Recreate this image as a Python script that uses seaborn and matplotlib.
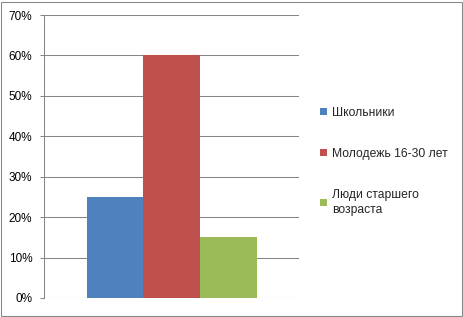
import matplotlib
matplotlib.use("Agg")
import matplotlib.pyplot as plt
import matplotlib.patches as mpatches
from matplotlib.ticker import FuncFormatter
import seaborn as sns
import pandas as pd

categories = ["Школьники", "Молодежь 16-30 лет", "Люди старшего\nвозраста"]
values = [25, 60, 15]
colors = ["#4F81BD", "#C0504D", "#9BBB59"]
yticks = [0, 10, 20, 30, 40, 50, 60, 70]

sns.set_style("white")
plt.rcParams["font.family"] = ["Liberation Sans", "DejaVu Sans"]

W, H = 463, 317
fig = plt.figure(figsize=(W / 100, H / 100), dpi=100)
ax = fig.add_axes([44 / W, (H - 298) / H, (299 - 44) / W, (298 - 15) / H])

df = pd.DataFrame({"grp": ["g"] * 3, "cat": categories, "val": values})
sns.barplot(data=df, x="grp", y="val", hue="cat", palette=colors, ax=ax,
            width=0.8, saturation=1, legend=False, edgecolor="none")

ax.set_xlim(-0.6, 0.6)
ax.set_ylim(0, 70)
ax.set_yticks(yticks)
ax.yaxis.set_major_formatter(FuncFormatter(lambda v, p: f"{int(v)}%"))
ax.set_xticks([])
ax.set_xlabel("")
ax.set_ylabel("")
grid_c = "#868686"
ax.grid(axis="y", color=grid_c, linewidth=0.75)
ax.set_axisbelow(True)
for s in ["top", "right", "bottom"]:
    ax.spines[s].set_visible(False)
ax.spines["left"].set_color(grid_c)
ax.spines["left"].set_linewidth(0.75)
ax.tick_params(axis="y", left=True, length=3, width=0.75, color=grid_c,
               pad=5.5, labelsize=8.5, labelcolor="#000000")

handles = [mpatches.Patch(facecolor=c, edgecolor="none") for c in colors]
leg = fig.legend(handles, categories, loc="upper left",
                 bbox_to_anchor=(320 / W, 1 - 107 / H), frameon=False,
                 fontsize=8.7, handlelength=0.55, handleheight=0.55,
                 handletextpad=0.45, labelspacing=2.4, borderpad=0,
                 borderaxespad=0)
for t in leg.get_texts():
    t.set_linespacing(1.35)

border = mpatches.Rectangle((0.5 / W, 1.5 / H), 461 / W, 314 / H,
                            transform=fig.transFigure, fill=False,
                            edgecolor=grid_c, linewidth=0.75)
fig.patches.append(border)

fig.savefig("out.png", dpi=100)
